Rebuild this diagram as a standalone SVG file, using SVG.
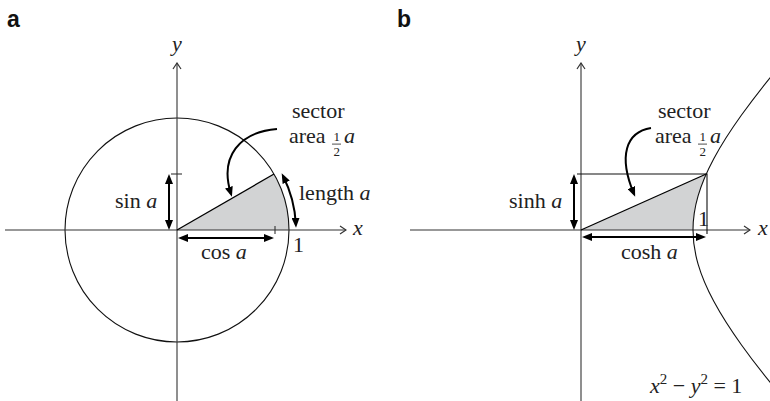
<svg xmlns="http://www.w3.org/2000/svg" width="770" height="401" viewBox="0 0 770 401">
<style>
text{font-family:"Liberation Serif","Times New Roman",serif;font-size:22px;fill:#222}
.it{font-style:italic}
.lab{font-family:"Liberation Sans",Arial,sans-serif;font-weight:bold;font-size:23px;fill:#111}
.small{font-size:13px}
.axis{stroke:#333;stroke-width:1.1;fill:none}
.thin{stroke:#111;stroke-width:1.1;fill:none}
.arr{stroke:#000;stroke-width:2;fill:none;marker-start:url(#ah);marker-end:url(#ah)}
.arr1{stroke:#000;stroke-width:2;fill:none;marker-end:url(#ah)}
.shade{fill:#d2d3d4;stroke:none}
</style>
<defs>
<marker id="ah" viewBox="0 0 10 8" refX="7" refY="4" markerWidth="10" markerHeight="8" markerUnits="userSpaceOnUse" orient="auto-start-reverse">
<path d="M0,0 L10,4 L0,8 Z" fill="#000"/>
</marker>
<marker id="oh" viewBox="0 0 8 10" refX="7" refY="5" markerWidth="8" markerHeight="10" markerUnits="userSpaceOnUse" orient="auto">
<path d="M1,1 L7,5 L1,9" fill="none" stroke="#333" stroke-width="1.2"/>
</marker>
</defs>
<rect width="770" height="401" fill="#fff"/>

<!-- Panel a -->
<g id="panel-a">
<text class="lab" x="7" y="27">a</text>
<g id="a-sector"><path class="shade" d="M177,230 L274,174 A112,112 0 0 1 289,230 Z"/></g>
<g id="a-circle"><circle class="thin" cx="177" cy="230" r="112"/></g>
<g id="a-axes">
<path class="axis" d="M5,230 H346" marker-end="url(#oh)"/>
<path class="axis" d="M177,401 V63" marker-end="url(#oh)"/>
<path class="axis" d="M171,174 H182"/>
<path class="axis" d="M275,226 V234"/>
<path d="M177,230 L274,174" stroke="#000" stroke-width="1.3" fill="none"/>
</g>
<g id="a-connectors">
<path class="arr" d="M169,177 V227"/>
<path class="arr" d="M181,238 H271"/>
<path class="arr" d="M283.03,175.97 A119,119 0 0 1 295.89,224.81"/>
<path class="arr1" d="M277,129 C240,132 219,156 231,194"/>
</g>
<g id="a-labels">
<text class="it" x="172" y="51">y</text>
<text class="it" x="353" y="235">x</text>
<text x="293" y="252">1</text>
<text x="115" y="208">sin <tspan class="it">a</tspan></text>
<text x="201" y="259">cos <tspan class="it">a</tspan></text>
<text x="299" y="200">length <tspan class="it">a</tspan></text>
<text x="292" y="118">sector</text>
<text x="289" y="143">area</text>
<text class="small" x="333.5" y="141">1</text>
<line x1="332" y1="144.1" x2="341" y2="144.1" stroke="#222" stroke-width="0.8"/>
<text class="small" x="333.5" y="156">2</text>
<text class="it" x="344" y="143" font-size="16">a</text>
</g>
</g>

<!-- Panel b -->
<g id="panel-b">
<text class="lab" x="397" y="27">b</text>
<g id="b-sector"><path class="shade" d="M581,230 L706.22,174 C697.24,194.08 693,212.04 693,230 Z"/></g>
<g id="b-axes">
<path class="axis" d="M410,230 H750" marker-end="url(#oh)"/>
<path class="axis" d="M581,401 V63" marker-end="url(#oh)"/>
<path class="thin" d="M577,174 H707 V234"/>
<path d="M581,230 L706.22,174" stroke="#000" stroke-width="1.3" fill="none"/>
</g>
<g id="b-hyperbola">
<path class="thin" d="M783.79,399.06 C766.88,378.78 753.01,361.02 741.51,344.97 C730.01,328.92 720.90,314.58 713.77,301.30 C706.64,288.02 701.49,275.82 698.08,264.11 C694.67,252.40 693,241.2 693,230 C693,218.8 694.67,207.60 698.08,195.89 C701.49,184.18 706.64,171.98 713.77,158.70 C720.90,145.42 730.01,131.08 741.51,115.03 C753.01,98.98 766.88,81.22 783.79,60.94"/>
</g>
<g id="b-connectors">
<path class="arr" d="M574,177 V227"/>
<path class="arr" d="M585,237 H703"/>
<path class="arr1" d="M651,128 C626,132 618,156 634,194"/>
</g>
<g id="b-labels">
<text class="it" x="576" y="51">y</text>
<text class="it" x="758" y="235">x</text>
<text x="698" y="226">1</text>
<text x="509" y="208">sinh <tspan class="it">a</tspan></text>
<text x="621" y="259">cosh <tspan class="it">a</tspan></text>
<text x="658" y="118">sector</text>
<text x="655" y="143">area</text>
<text class="small" x="699.5" y="141">1</text>
<line x1="698" y1="144.1" x2="707" y2="144.1" stroke="#222" stroke-width="0.8"/>
<text class="small" x="699.5" y="156">2</text>
<text class="it" x="710" y="143" font-size="16">a</text>
<text x="650" y="393"><tspan class="it">x</tspan><tspan font-size="15" dy="-9">2</tspan><tspan dy="9"> − </tspan><tspan class="it">y</tspan><tspan font-size="15" dy="-9">2</tspan><tspan dy="9"> = 1</tspan></text>
</g>
</g>
</svg>
